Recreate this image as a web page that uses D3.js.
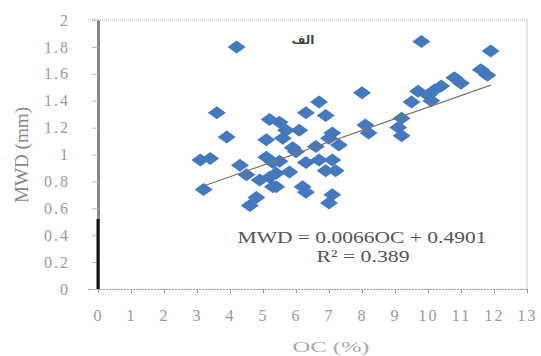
<!DOCTYPE html>
<html>
<head>
<meta charset="utf-8">
<script src="https://cdn.jsdelivr.net/npm/d3@7"></script>
<style>
  body { margin: 0; background: #fff; }
  svg text { font-family: "Liberation Serif", "DejaVu Serif", serif; }
</style>
</head>
<body>
<svg id="chart" width="541" height="356"></svg>
<script>
// organic carbon (%) and mean weight diameter (mm)
const oc = [4.2, 9.8, 11.9, 11.6, 11.8, 10.8, 11.0, 9.7, 10.0, 10.2, 10.4, 10.1,
  9.5, 9.2, 9.1, 9.2, 8.0, 8.1, 8.2, 6.7, 6.3, 6.9, 5.5, 5.7, 6.1, 7.1, 7.3, 7.0,
  5.9, 6.6, 6.3, 6.7, 7.1, 7.2, 6.9, 6.2, 6.3, 7.1, 7.0, 5.3, 5.4, 5.4, 3.6, 3.9,
  3.1, 3.4, 4.3, 4.5, 3.2, 4.8, 4.6, 5.2, 5.1, 5.1, 4.9, 5.2, 5.3, 5.5, 5.6, 6.0, 5.8];
const mwd = [1.80, 1.84, 1.77, 1.63, 1.59, 1.57, 1.53, 1.47, 1.44, 1.48, 1.51, 1.40,
  1.39, 1.27, 1.20, 1.14, 1.46, 1.22, 1.16, 1.39, 1.31, 1.29, 1.24, 1.18, 1.18, 1.16, 1.07, 1.12,
  1.05, 1.06, 0.94, 0.96, 0.96, 0.88, 0.88, 0.76, 0.72, 0.70, 0.64, 0.94, 0.86, 0.76, 1.31, 1.13,
  0.96, 0.97, 0.92, 0.85, 0.74, 0.68, 0.62, 1.26, 1.11, 0.98, 0.81, 0.83, 0.76, 0.95, 1.12, 1.02, 0.87];

const xTicks = [0, 1, 2, 3, 4, 5, 6, 7, 8, 9, 10, 11, 12, 13];
const yTicks = [0, 0.2, 0.4, 0.6, 0.8, 1, 1.2, 1.4, 1.6, 1.8, 2];

// trendline as drawn in the picture
const trendSlope = 0.0862;
const trendIntercept = 0.49;
const trendRange = [3.2, 11.9];

const eqLabel = "MWD = 0.0066OC + 0.4901";
const r2Label = "R² = 0.389";
const panelLabel = "الف";
const xTitle = "OC (%)";
const yTitle = "MWD (mm)";

const svg = d3.select("#chart");

const x = d3.scaleLinear().domain([0, 13]).range([98, 527]);
const y = d3.scaleLinear().domain([0, 2]).range([289, 20]);

// plot frame (top and right)
svg.append("line")
  .attr("x1", 88).attr("x2", x(13)).attr("y1", y(2)).attr("y2", y(2))
  .attr("stroke", "#aaa").attr("stroke-dasharray", "1,1");
svg.append("line")
  .attr("x1", x(13)).attr("x2", x(13)).attr("y1", y(2)).attr("y2", y(0))
  .attr("stroke", "#ccc");

// x axis
const xAxis = svg.append("g")
  .attr("transform", `translate(0,${y(0)})`)
  .call(d3.axisBottom(x).tickValues(xTicks).tickSize(4).tickSizeOuter(0).tickPadding(17));
xAxis.select(".domain").attr("stroke", "#999").attr("stroke-dasharray", "2,1")
  .attr("d", `M${88},0.5H${x(13)}`);
xAxis.selectAll(".tick line").attr("stroke", "#999");
xAxis.selectAll(".tick text")
  .attr("fill", "#9a9a9a").attr("font-size", 16).attr("letter-spacing", "2px")
  .style("font-family", "Liberation Serif");

// y axis
const yAxis = svg.append("g")
  .attr("transform", `translate(${x(0)},0)`)
  .call(d3.axisLeft(y).tickValues(yTicks).tickFormat(d3.format("~g"))
    .tickSize(6).tickSizeOuter(0).tickPadding(22));
yAxis.select(".domain").attr("stroke", "#888").attr("stroke-width", 3);
yAxis.selectAll(".tick line").attr("stroke", "#bbb");
yAxis.selectAll(".tick text")
  .attr("fill", "#9a9a9a").attr("font-size", 16).attr("letter-spacing", "2px")
  .style("font-family", "Liberation Serif");
// dark stroke on the lower part of the axis
svg.append("line")
  .attr("x1", x(0)).attr("x2", x(0)).attr("y1", y(0.52)).attr("y2", y(0))
  .attr("stroke", "#111").attr("stroke-width", 3);

// points
const pts = oc.map((v, i) => ({oc: v, mwd: mwd[i]}));
const diamond = "M0,-6.5L9,0L0,6.5L-9,0Z";
svg.append("g").selectAll("path")
  .data(pts)
  .enter().append("path")
  .attr("d", diamond)
  .attr("transform", d => `translate(${x(d.oc)},${y(d.mwd)})`)
  .attr("fill", "#4479bd");

// trendline
svg.append("line")
  .attr("x1", x(trendRange[0])).attr("y1", y(trendIntercept + trendSlope * trendRange[0]))
  .attr("x2", x(trendRange[1])).attr("y2", y(trendIntercept + trendSlope * trendRange[1]))
  .attr("stroke", "#7d7566").attr("stroke-width", 1.2);

// equation
svg.append("text")
  .attr("x", 362).attr("y", 243).attr("text-anchor", "middle")
  .attr("font-size", 17).attr("fill", "#555")
  .attr("textLength", 249).attr("lengthAdjust", "spacingAndGlyphs")
  .text(eqLabel);
svg.append("text")
  .attr("x", 363).attr("y", 262).attr("text-anchor", "middle")
  .attr("font-size", 17).attr("fill", "#555")
  .attr("textLength", 93).attr("lengthAdjust", "spacingAndGlyphs")
  .text(r2Label);

// panel label
svg.append("text")
  .attr("x", 303).attr("y", 44).attr("text-anchor", "middle")
  .attr("font-size", 12).attr("font-weight", "bold").attr("fill", "#444")
  .style("font-family", "DejaVu Sans")
  .text(panelLabel);

// axis titles
svg.append("text")
  .attr("x", 331).attr("y", 352).attr("text-anchor", "middle")
  .attr("font-size", 15).attr("fill", "#aaa")
  .attr("textLength", 77).attr("lengthAdjust", "spacingAndGlyphs")
  .text(xTitle);
svg.append("text")
  .attr("transform", "translate(28,155) rotate(-90)")
  .attr("text-anchor", "middle")
  .attr("font-size", 18).attr("fill", "#888")
  .attr("textLength", 96).attr("lengthAdjust", "spacingAndGlyphs")
  .text(yTitle);
</script>
</body>
</html>
